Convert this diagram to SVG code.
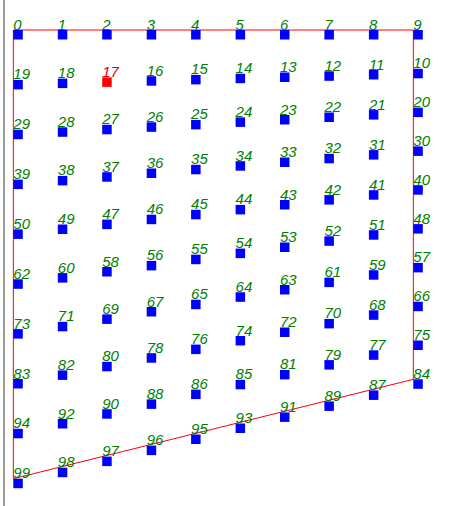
<svg xmlns="http://www.w3.org/2000/svg" width="450" height="506" viewBox="0 0 450 506">
<style>
.n rect{fill:#0000ff}
.n text{font-family:"Liberation Sans",Arial,sans-serif;font-style:italic;font-size:15px;fill:#008000}
.sel rect{fill:#ff0000}
.sel text{fill:#e00000}
.edge{fill:none;stroke:#ff0000;stroke-width:1}
</style>
<rect x="0" y="0" width="450" height="506" fill="#ffffff"/>
<rect x="3" y="0" width="2" height="506" fill="#9a9a9a"/>
<g id="connectors">
<polygon class="edge" points="13.33,30 413.33,30 413.33,379.3 13.33,478.7"/>
</g>
<g id="nodes">
<g id="n0" class="n"><rect x="13.3" y="30" width="9.5" height="9.5"/><text x="13.3" y="29.5">0</text></g>
<g id="n1" class="n"><rect x="57.8" y="30" width="9.5" height="9.5"/><text x="57.8" y="29.5">1</text></g>
<g id="n2" class="n"><rect x="102.2" y="30" width="9.5" height="9.5"/><text x="102.2" y="29.5">2</text></g>
<g id="n3" class="n"><rect x="146.7" y="30" width="9.5" height="9.5"/><text x="146.7" y="29.5">3</text></g>
<g id="n4" class="n"><rect x="191.1" y="30" width="9.5" height="9.5"/><text x="191.1" y="29.5">4</text></g>
<g id="n5" class="n"><rect x="235.6" y="30" width="9.5" height="9.5"/><text x="235.6" y="29.5">5</text></g>
<g id="n6" class="n"><rect x="280" y="30" width="9.5" height="9.5"/><text x="280" y="29.5">6</text></g>
<g id="n7" class="n"><rect x="324.4" y="30" width="9.5" height="9.5"/><text x="324.4" y="29.5">7</text></g>
<g id="n8" class="n"><rect x="368.9" y="30" width="9.5" height="9.5"/><text x="368.9" y="29.5">8</text></g>
<g id="n9" class="n"><rect x="413.3" y="30" width="9.5" height="9.5"/><text x="413.3" y="29.5">9</text></g>

<g id="n19" class="n"><rect x="13.3" y="79.9" width="9.5" height="9.5"/><text x="13.3" y="79.4">19</text></g>
<g id="n18" class="n"><rect x="57.8" y="78.6" width="9.5" height="9.5"/><text x="57.8" y="78.1">18</text></g>
<g id="n17" class="n sel"><rect x="102.2" y="77.4" width="9.5" height="9.5"/><text x="102.2" y="76.9">17</text></g>
<g id="n16" class="n"><rect x="146.7" y="76.2" width="9.5" height="9.5"/><text x="146.7" y="75.7">16</text></g>
<g id="n15" class="n"><rect x="191.1" y="74.9" width="9.5" height="9.5"/><text x="191.1" y="74.4">15</text></g>
<g id="n14" class="n"><rect x="235.6" y="73.7" width="9.5" height="9.5"/><text x="235.6" y="73.2">14</text></g>
<g id="n13" class="n"><rect x="280" y="72.5" width="9.5" height="9.5"/><text x="280" y="72">13</text></g>
<g id="n12" class="n"><rect x="324.4" y="71.3" width="9.5" height="9.5"/><text x="324.4" y="70.8">12</text></g>
<g id="n11" class="n"><rect x="368.9" y="70" width="9.5" height="9.5"/><text x="368.9" y="69.5">11</text></g>
<g id="n10" class="n"><rect x="413.3" y="68.8" width="9.5" height="9.5"/><text x="413.3" y="68.3">10</text></g>

<g id="n29" class="n"><rect x="13.3" y="129.7" width="9.5" height="9.5"/><text x="13.3" y="129.2">29</text></g>
<g id="n28" class="n"><rect x="57.8" y="127.3" width="9.5" height="9.5"/><text x="57.8" y="126.8">28</text></g>
<g id="n27" class="n"><rect x="102.2" y="124.8" width="9.5" height="9.5"/><text x="102.2" y="124.3">27</text></g>
<g id="n26" class="n"><rect x="146.7" y="122.3" width="9.5" height="9.5"/><text x="146.7" y="121.8">26</text></g>
<g id="n25" class="n"><rect x="191.1" y="119.9" width="9.5" height="9.5"/><text x="191.1" y="119.4">25</text></g>
<g id="n24" class="n"><rect x="235.6" y="117.4" width="9.5" height="9.5"/><text x="235.6" y="116.9">24</text></g>
<g id="n23" class="n"><rect x="280" y="115" width="9.5" height="9.5"/><text x="280" y="114.5">23</text></g>
<g id="n22" class="n"><rect x="324.4" y="112.5" width="9.5" height="9.5"/><text x="324.4" y="112">22</text></g>
<g id="n21" class="n"><rect x="368.9" y="110.1" width="9.5" height="9.5"/><text x="368.9" y="109.6">21</text></g>
<g id="n20" class="n"><rect x="413.3" y="107.6" width="9.5" height="9.5"/><text x="413.3" y="107.1">20</text></g>

<g id="n39" class="n"><rect x="13.3" y="179.6" width="9.5" height="9.5"/><text x="13.3" y="179.1">39</text></g>
<g id="n38" class="n"><rect x="57.8" y="175.9" width="9.5" height="9.5"/><text x="57.8" y="175.4">38</text></g>
<g id="n37" class="n"><rect x="102.2" y="172.2" width="9.5" height="9.5"/><text x="102.2" y="171.7">37</text></g>
<g id="n36" class="n"><rect x="146.7" y="168.5" width="9.5" height="9.5"/><text x="146.7" y="168">36</text></g>
<g id="n35" class="n"><rect x="191.1" y="164.8" width="9.5" height="9.5"/><text x="191.1" y="164.3">35</text></g>
<g id="n34" class="n"><rect x="235.6" y="161.2" width="9.5" height="9.5"/><text x="235.6" y="160.7">34</text></g>
<g id="n33" class="n"><rect x="280" y="157.5" width="9.5" height="9.5"/><text x="280" y="157">33</text></g>
<g id="n32" class="n"><rect x="324.4" y="153.8" width="9.5" height="9.5"/><text x="324.4" y="153.3">32</text></g>
<g id="n31" class="n"><rect x="368.9" y="150.1" width="9.5" height="9.5"/><text x="368.9" y="149.6">31</text></g>
<g id="n30" class="n"><rect x="413.3" y="146.4" width="9.5" height="9.5"/><text x="413.3" y="145.9">30</text></g>

<g id="n50" class="n"><rect x="13.3" y="229.4" width="9.5" height="9.5"/><text x="13.3" y="228.9">50</text></g>
<g id="n49" class="n"><rect x="57.8" y="224.5" width="9.5" height="9.5"/><text x="57.8" y="224">49</text></g>
<g id="n47" class="n"><rect x="102.2" y="219.6" width="9.5" height="9.5"/><text x="102.2" y="219.1">47</text></g>
<g id="n46" class="n"><rect x="146.7" y="214.7" width="9.5" height="9.5"/><text x="146.7" y="214.2">46</text></g>
<g id="n45" class="n"><rect x="191.1" y="209.8" width="9.5" height="9.5"/><text x="191.1" y="209.3">45</text></g>
<g id="n44" class="n"><rect x="235.6" y="204.9" width="9.5" height="9.5"/><text x="235.6" y="204.4">44</text></g>
<g id="n43" class="n"><rect x="280" y="200" width="9.5" height="9.5"/><text x="280" y="199.5">43</text></g>
<g id="n42" class="n"><rect x="324.4" y="195.1" width="9.5" height="9.5"/><text x="324.4" y="194.6">42</text></g>
<g id="n41" class="n"><rect x="368.9" y="190.2" width="9.5" height="9.5"/><text x="368.9" y="189.7">41</text></g>
<g id="n40" class="n"><rect x="413.3" y="185.2" width="9.5" height="9.5"/><text x="413.3" y="184.7">40</text></g>

<g id="n62" class="n"><rect x="13.3" y="279.3" width="9.5" height="9.5"/><text x="13.3" y="278.8">62</text></g>
<g id="n60" class="n"><rect x="57.8" y="273.1" width="9.5" height="9.5"/><text x="57.8" y="272.6">60</text></g>
<g id="n58" class="n"><rect x="102.2" y="267" width="9.5" height="9.5"/><text x="102.2" y="266.5">58</text></g>
<g id="n56" class="n"><rect x="146.7" y="260.9" width="9.5" height="9.5"/><text x="146.7" y="260.4">56</text></g>
<g id="n55" class="n"><rect x="191.1" y="254.7" width="9.5" height="9.5"/><text x="191.1" y="254.2">55</text></g>
<g id="n54" class="n"><rect x="235.6" y="248.6" width="9.5" height="9.5"/><text x="235.6" y="248.1">54</text></g>
<g id="n53" class="n"><rect x="280" y="242.5" width="9.5" height="9.5"/><text x="280" y="242">53</text></g>
<g id="n52" class="n"><rect x="324.4" y="236.3" width="9.5" height="9.5"/><text x="324.4" y="235.8">52</text></g>
<g id="n51" class="n"><rect x="368.9" y="230.2" width="9.5" height="9.5"/><text x="368.9" y="229.7">51</text></g>
<g id="n48" class="n"><rect x="413.3" y="224.1" width="9.5" height="9.5"/><text x="413.3" y="223.6">48</text></g>

<g id="n73" class="n"><rect x="13.3" y="329.1" width="9.5" height="9.5"/><text x="13.3" y="328.6">73</text></g>
<g id="n71" class="n"><rect x="57.8" y="321.8" width="9.5" height="9.5"/><text x="57.8" y="321.3">71</text></g>
<g id="n69" class="n"><rect x="102.2" y="314.4" width="9.5" height="9.5"/><text x="102.2" y="313.9">69</text></g>
<g id="n67" class="n"><rect x="146.7" y="307" width="9.5" height="9.5"/><text x="146.7" y="306.5">67</text></g>
<g id="n65" class="n"><rect x="191.1" y="299.7" width="9.5" height="9.5"/><text x="191.1" y="299.2">65</text></g>
<g id="n64" class="n"><rect x="235.6" y="292.3" width="9.5" height="9.5"/><text x="235.6" y="291.8">64</text></g>
<g id="n63" class="n"><rect x="280" y="285" width="9.5" height="9.5"/><text x="280" y="284.5">63</text></g>
<g id="n61" class="n"><rect x="324.4" y="277.6" width="9.5" height="9.5"/><text x="324.4" y="277.1">61</text></g>
<g id="n59" class="n"><rect x="368.9" y="270.2" width="9.5" height="9.5"/><text x="368.9" y="269.7">59</text></g>
<g id="n57" class="n"><rect x="413.3" y="262.9" width="9.5" height="9.5"/><text x="413.3" y="262.4">57</text></g>

<g id="n83" class="n"><rect x="13.3" y="379" width="9.5" height="9.5"/><text x="13.3" y="378.5">83</text></g>
<g id="n82" class="n"><rect x="57.8" y="370.4" width="9.5" height="9.5"/><text x="57.8" y="369.9">82</text></g>
<g id="n80" class="n"><rect x="102.2" y="361.8" width="9.5" height="9.5"/><text x="102.2" y="361.3">80</text></g>
<g id="n78" class="n"><rect x="146.7" y="353.2" width="9.5" height="9.5"/><text x="146.7" y="352.7">78</text></g>
<g id="n76" class="n"><rect x="191.1" y="344.6" width="9.5" height="9.5"/><text x="191.1" y="344.1">76</text></g>
<g id="n74" class="n"><rect x="235.6" y="336" width="9.5" height="9.5"/><text x="235.6" y="335.5">74</text></g>
<g id="n72" class="n"><rect x="280" y="327.5" width="9.5" height="9.5"/><text x="280" y="327">72</text></g>
<g id="n70" class="n"><rect x="324.4" y="318.9" width="9.5" height="9.5"/><text x="324.4" y="318.4">70</text></g>
<g id="n68" class="n"><rect x="368.9" y="310.3" width="9.5" height="9.5"/><text x="368.9" y="309.8">68</text></g>
<g id="n66" class="n"><rect x="413.3" y="301.7" width="9.5" height="9.5"/><text x="413.3" y="301.2">66</text></g>

<g id="n94" class="n"><rect x="13.3" y="428.8" width="9.5" height="9.5"/><text x="13.3" y="428.3">94</text></g>
<g id="n92" class="n"><rect x="57.8" y="419" width="9.5" height="9.5"/><text x="57.8" y="418.5">92</text></g>
<g id="n90" class="n"><rect x="102.2" y="409.2" width="9.5" height="9.5"/><text x="102.2" y="408.7">90</text></g>
<g id="n88" class="n"><rect x="146.7" y="399.4" width="9.5" height="9.5"/><text x="146.7" y="398.9">88</text></g>
<g id="n86" class="n"><rect x="191.1" y="389.6" width="9.5" height="9.5"/><text x="191.1" y="389.1">86</text></g>
<g id="n85" class="n"><rect x="235.6" y="379.8" width="9.5" height="9.5"/><text x="235.6" y="379.3">85</text></g>
<g id="n81" class="n"><rect x="280" y="369.9" width="9.5" height="9.5"/><text x="280" y="369.4">81</text></g>
<g id="n79" class="n"><rect x="324.4" y="360.1" width="9.5" height="9.5"/><text x="324.4" y="359.6">79</text></g>
<g id="n77" class="n"><rect x="368.9" y="350.3" width="9.5" height="9.5"/><text x="368.9" y="349.8">77</text></g>
<g id="n75" class="n"><rect x="413.3" y="340.5" width="9.5" height="9.5"/><text x="413.3" y="340">75</text></g>

<g id="n99" class="n"><rect x="13.3" y="478.7" width="9.5" height="9.5"/><text x="13.3" y="478.2">99</text></g>
<g id="n98" class="n"><rect x="57.8" y="467.7" width="9.5" height="9.5"/><text x="57.8" y="467.2">98</text></g>
<g id="n97" class="n"><rect x="102.2" y="456.6" width="9.5" height="9.5"/><text x="102.2" y="456.1">97</text></g>
<g id="n96" class="n"><rect x="146.7" y="445.6" width="9.5" height="9.5"/><text x="146.7" y="445.1">96</text></g>
<g id="n95" class="n"><rect x="191.1" y="434.5" width="9.5" height="9.5"/><text x="191.1" y="434">95</text></g>
<g id="n93" class="n"><rect x="235.6" y="423.5" width="9.5" height="9.5"/><text x="235.6" y="423">93</text></g>
<g id="n91" class="n"><rect x="280" y="412.4" width="9.5" height="9.5"/><text x="280" y="411.9">91</text></g>
<g id="n89" class="n"><rect x="324.4" y="401.4" width="9.5" height="9.5"/><text x="324.4" y="400.9">89</text></g>
<g id="n87" class="n"><rect x="368.9" y="390.4" width="9.5" height="9.5"/><text x="368.9" y="389.9">87</text></g>
<g id="n84" class="n"><rect x="413.3" y="379.3" width="9.5" height="9.5"/><text x="413.3" y="378.8">84</text></g>
</g>
</svg>
